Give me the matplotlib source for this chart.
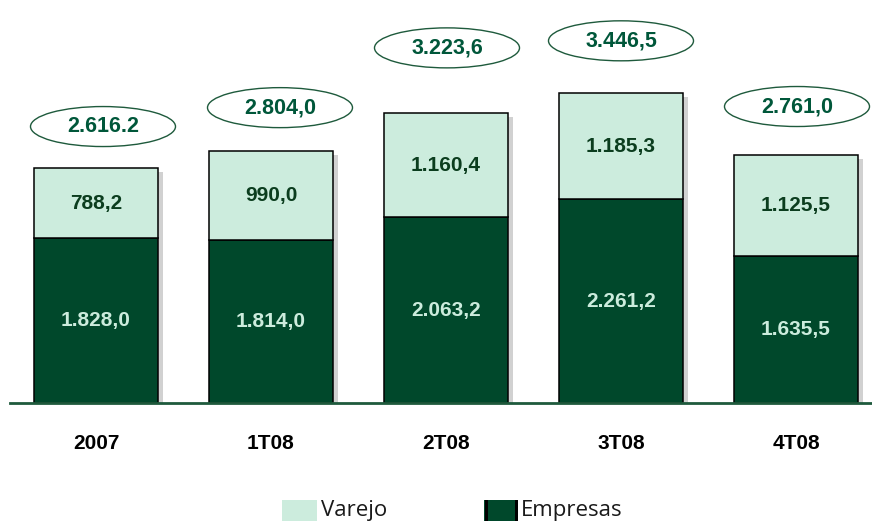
import matplotlib
matplotlib.use("Agg")
from matplotlib import pyplot as plt
from matplotlib.patches import Ellipse, Rectangle
import numpy as np

# data
periods = ["2007", "1T08", "2T08", "3T08", "4T08"]
empresas = [1828.0, 1814.0, 2063.2, 2261.2, 1635.5]
varejo = [788.2, 990.0, 1160.4, 1185.3, 1125.5]
totals = [2616.2, 2804.0, 3223.6, 3446.5, 2761.0]
empresas_labels = ["1.828,0", "1.814,0", "2.063,2", "2.261,2", "1.635,5"]
varejo_labels = ["788,2", "990,0", "1.160,4", "1.185,3", "1.125,5"]
total_labels = ["2.616.2", "2.804,0", "3.223,6", "3.446,5", "2.761,0"]
legend_labels = ["Varejo", "Empresas"]

# layout of the ellipses above each bar (px above bar top, px shift in x)
bubble_dy = [41, 43, 65, 52, 48]
bubble_dx = [7, 9, 1, 0, 1]

dark = "#00482B"
light = "#CCECDD"
bubble_txt = "#00573A"

plt.rcParams['font.family'] = ['Liberation Sans', 'DejaVu Sans']

W, H = 872, 521
fig = plt.figure(figsize=(W / 100, H / 100), dpi=100)
base_px = 403
left_px = 10
ax = fig.add_axes([left_px / W, (H - base_px) / H, 1 - left_px / W, base_px / H])

px_per_x = 175.0
px_per_y = 0.09
xmin = -(96 - left_px) / px_per_x
ax.set_xlim(xmin, xmin + (W - left_px) / px_per_x)
ax.set_ylim(0, base_px / px_per_y)

x = np.arange(len(periods))
width = 124 / px_per_x

# soft drop shadow behind the whole stack
ax.bar(x + 5 / px_per_x, totals, width, bottom=-4 / px_per_y, color="#9a9a9a",
       alpha=0.45, linewidth=0, zorder=1)
ax.bar(x, empresas, width, color=dark, edgecolor="black", linewidth=1.1, zorder=2)
ax.bar(x, varejo, width, bottom=empresas, color=light, edgecolor="black",
       linewidth=1.1, zorder=2)

for i in range(len(periods)):
    ax.text(x[i], empresas[i] / 2, empresas_labels[i], ha="center", va="center",
            color=light, fontsize=15, fontweight="bold", zorder=3)
    ax.text(x[i], empresas[i] + varejo[i] / 2, varejo_labels[i], ha="center", va="center",
            color="#0B3D1E", fontsize=15, fontweight="bold", zorder=3)
    cx = x[i] + bubble_dx[i] / px_per_x
    cy = totals[i] + bubble_dy[i] / px_per_y
    ax.add_patch(Ellipse((cx, cy), 145 / px_per_x, 40 / px_per_y, facecolor="white",
                         edgecolor="#1E5A3C", linewidth=1.0, clip_on=False, zorder=3))
    ax.text(cx, cy, total_labels[i], ha="center", va="center", color=bubble_txt,
            fontsize=15.5, fontweight="bold", zorder=4)

for s in ["top", "right", "left"]:
    ax.spines[s].set_visible(False)
ax.spines["bottom"].set_color("#1E5A3C")
ax.spines["bottom"].set_linewidth(2)
ax.spines["bottom"].set_zorder(5)
ax.set_yticks([])
ax.set_xticks(x)
ax.set_xticklabels(periods, fontsize=15, fontweight="bold")
ax.tick_params(axis="x", length=0, pad=22)

# legend at the bottom edge (partly cut off, as in the original slide)
fig.patches.append(Rectangle((282 / W, 0), 35 / W, 21 / H, transform=fig.transFigure,
                             facecolor=light, edgecolor="none"))
fig.patches.append(Rectangle((484 / W, 0), 33 / W, 21 / H, transform=fig.transFigure,
                             facecolor=dark, edgecolor="none"))
for xe in (485, 515):
    fig.patches.append(Rectangle((xe / W, 0), 3 / W, 21 / H, transform=fig.transFigure,
                                 facecolor="black", edgecolor="none"))
fig.text(321 / W, 5 / H, legend_labels[0], fontsize=16, family="Open Sans",
         color="#1a1a1a", ha="left", va="baseline")
fig.text(521 / W, 5 / H, legend_labels[1], fontsize=16, family="Open Sans",
         color="#1a1a1a", ha="left", va="baseline")

fig.savefig("out.png", dpi=100, facecolor="white")
